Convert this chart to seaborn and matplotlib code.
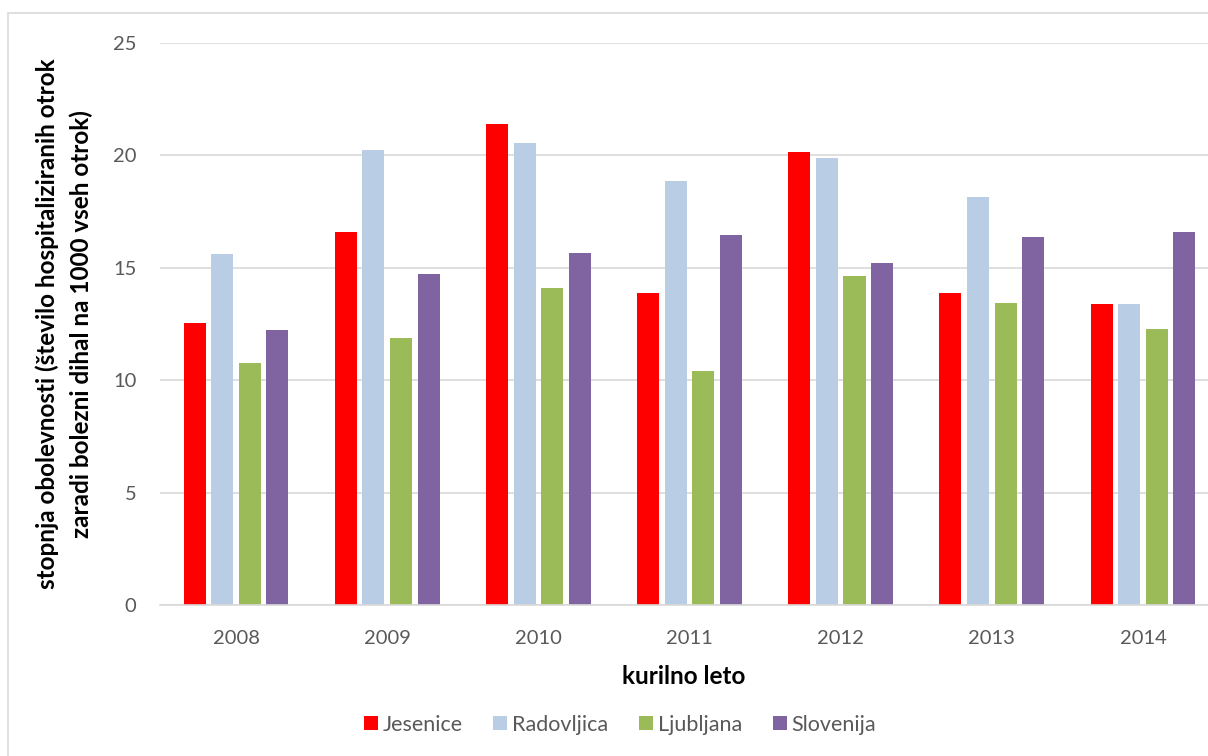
import matplotlib
matplotlib.use("Agg")
import matplotlib.pyplot as plt
import seaborn as sns
import pandas as pd
from matplotlib.patches import Rectangle
from matplotlib.lines import Line2D

years = ["2008", "2009", "2010", "2011", "2012", "2013", "2014"]
jesenice = [12.55, 16.6, 21.38, 13.9, 20.17, 13.87, 13.4]
radovljica = [15.62, 20.22, 20.54, 18.85, 19.87, 18.13, 13.4]
ljubljana = [10.75, 11.88, 14.09, 10.41, 14.65, 13.42, 12.29]
slovenija = [12.25, 14.72, 15.66, 16.46, 15.2, 16.37, 16.58]

series = ["Jesenice", "Radovljica", "Ljubljana", "Slovenija"]
colors = ["#FF0000", "#B9CDE5", "#9BBB59", "#8064A2"]

rows = []
for name, vals in zip(series, [jesenice, radovljica, ljubljana, slovenija]):
    for y, v in zip(years, vals):
        rows.append({"leto": y, "regija": name, "vrednost": v})
df = pd.DataFrame(rows)

sns.set_theme(style="white")
plt.rcParams["font.family"] = ["Lato", "DejaVu Sans"]

fig = plt.figure(figsize=(12.08, 7.56), dpi=100)
ax = fig.add_axes([160 / 1208, 1 - 605 / 756, (1208 - 160) / 1208, (605 - 43) / 756])

sns.barplot(data=df, x="leto", y="vrednost", hue="regija", order=years,
            hue_order=series, palette=colors, saturation=1, width=0.73, gap=0.2,
            linewidth=0, ax=ax, legend=False)

ax.set_ylim(0, 25)
ax.set_xlim(-0.503, 6.43)
ax.set_yticks([0, 5, 10, 15, 20, 25])
ax.yaxis.grid(True, color="#D9D9D9", linewidth=1.2)
ax.set_axisbelow(True)
for s in ["top", "right", "left"]:
    ax.spines[s].set_visible(False)
ax.spines["bottom"].set_color("#D9D9D9")
ax.spines["bottom"].set_linewidth(1.2)
ax.tick_params(axis="both", length=0, labelsize=14.5, labelcolor="#595959")
ax.tick_params(axis="y", pad=17)
ax.tick_params(axis="x", pad=18)

ax.set_xlabel("kurilno leto", fontsize=17.5, fontweight="bold", color="black", labelpad=13)
ax.set_ylabel("stopnja obolevnosti (število hospitaliziranih otrok\nzaradi bolezni dihal na 1000 vseh otrok)",
              fontsize=17.5, fontweight="bold", color="black", labelpad=14, linespacing=1.55)

handles = [Line2D([0], [0], marker="s", linestyle="none", markersize=10.5,
                  markerfacecolor=c, markeredgewidth=0) for c in colors]
fig.legend(handles, series, loc="center", bbox_to_anchor=(619 / 1208, 1 - 725 / 756),
           ncol=4, frameon=False, fontsize=15.5, labelcolor="#595959",
           handletextpad=0.15, columnspacing=1.35, handlelength=0.8)

fig.patches.append(Rectangle((8 / 1208, -0.05), 1.2, 1.05 - 13 / 756, transform=fig.transFigure,
                             fill=False, edgecolor="#D9D9D9", linewidth=1.2))

fig.savefig("out.png", dpi=100, facecolor="white")
